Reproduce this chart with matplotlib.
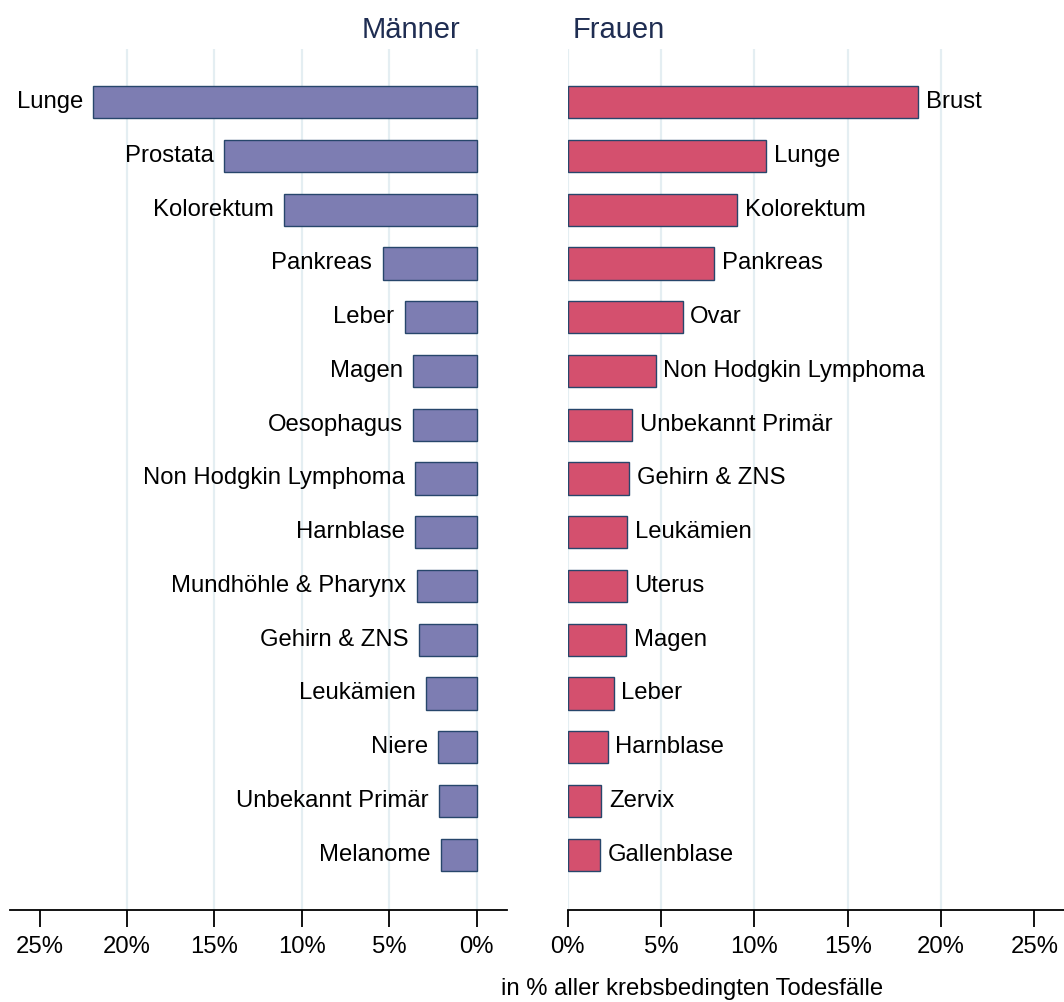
import matplotlib.pyplot as plt

plt.rcParams['font.family'] = ['Liberation Sans', 'DejaVu Sans']

men_sites = ["Lunge", "Prostata", "Kolorektum", "Pankreas", "Leber", "Magen",
             "Oesophagus", "Non Hodgkin Lymphoma", "Harnblase", "Mundhöhle & Pharynx",
             "Gehirn & ZNS", "Leukämien", "Niere", "Unbekannt Primär", "Melanome"]
men_pct = [21.93, 14.44, 11.0, 5.38, 4.12, 3.64, 3.63, 3.53, 3.53, 3.43,
           3.28, 2.90, 2.20, 2.14, 2.03]

women_sites = ["Brust", "Lunge", "Kolorektum", "Pankreas", "Ovar", "Non Hodgkin Lymphoma",
               "Unbekannt Primär", "Gehirn & ZNS", "Leukämien", "Uterus", "Magen",
               "Leber", "Harnblase", "Zervix", "Gallenblase"]
women_pct = [18.76, 10.64, 9.07, 7.84, 6.16, 4.73, 3.45, 3.30, 3.21, 3.18, 3.13,
             2.48, 2.16, 1.82, 1.73]

ticks = [0, 5, 10, 15, 20, 25]
grid_at = [0, 5, 10, 15, 20]

men_color = "#7d7db2"
women_color = "#d4506e"
edge = "#27466b"
grid_color = "#e4eef2"
title_color = "#1f2d52"
fs = 17.2

fig = plt.figure(figsize=(10.64, 10.02), dpi=100)
ax_m = fig.add_axes([9.5 / 1064, 1 - 910 / 1002, 497 / 1064, 861 / 1002])
ax_w = fig.add_axes([567.5 / 1064, 1 - 910 / 1002, 496.5 / 1064, 861 / 1002])


def setup(ax, xlim):
    for s in ["top", "left", "right"]:
        ax.spines[s].set_visible(False)
    ax.spines["bottom"].set_linewidth(1.3)
    ax.set_xlim(*xlim)
    ax.set_ylim(15.03, -0.99)
    ax.set_yticks([])
    ax.set_xticks(ticks)
    ax.set_xticklabels([f"{t}%" for t in ticks], fontsize=fs)
    ax.tick_params(axis="x", direction="out", length=12, width=1.3, pad=7)
    for g in grid_at:
        ax.axvline(g, color=grid_color, lw=1.6, zorder=0)


setup(ax_m, (26.73, -1.71))
setup(ax_w, (0, 26.58))

y_m = range(len(men_sites))
ax_m.barh(y_m, men_pct, height=0.6, color=men_color, edgecolor=edge, linewidth=1, zorder=2)
for y, v, name in zip(y_m, men_pct, men_sites):
    ax_m.annotate(name, (v, y), xytext=(-7.5, 0), textcoords="offset points",
                  ha="right", va="center", fontsize=fs)

y_w = range(len(women_sites))
ax_w.barh(y_w, women_pct, height=0.6, color=women_color, edgecolor=edge, linewidth=1, zorder=2)
for y, v, name in zip(y_w, women_pct, women_sites):
    ax_w.annotate(name, (v, y), xytext=(5.5, 0), textcoords="offset points",
                  ha="left", va="center", fontsize=fs)

fig.text(460 / 1064, 1 - 38 / 1002, "Männer", ha="right", va="baseline",
         fontsize=21, color=title_color)
fig.text(573 / 1064, 1 - 38 / 1002, "Frauen", ha="left", va="baseline",
         fontsize=21, color=title_color)
fig.text(692 / 1064, 1 - 995 / 1002, "in % aller krebsbedingten Todesfälle",
         ha="center", va="baseline", fontsize=fs)

fig.savefig("out.png", dpi=100, facecolor="white")
